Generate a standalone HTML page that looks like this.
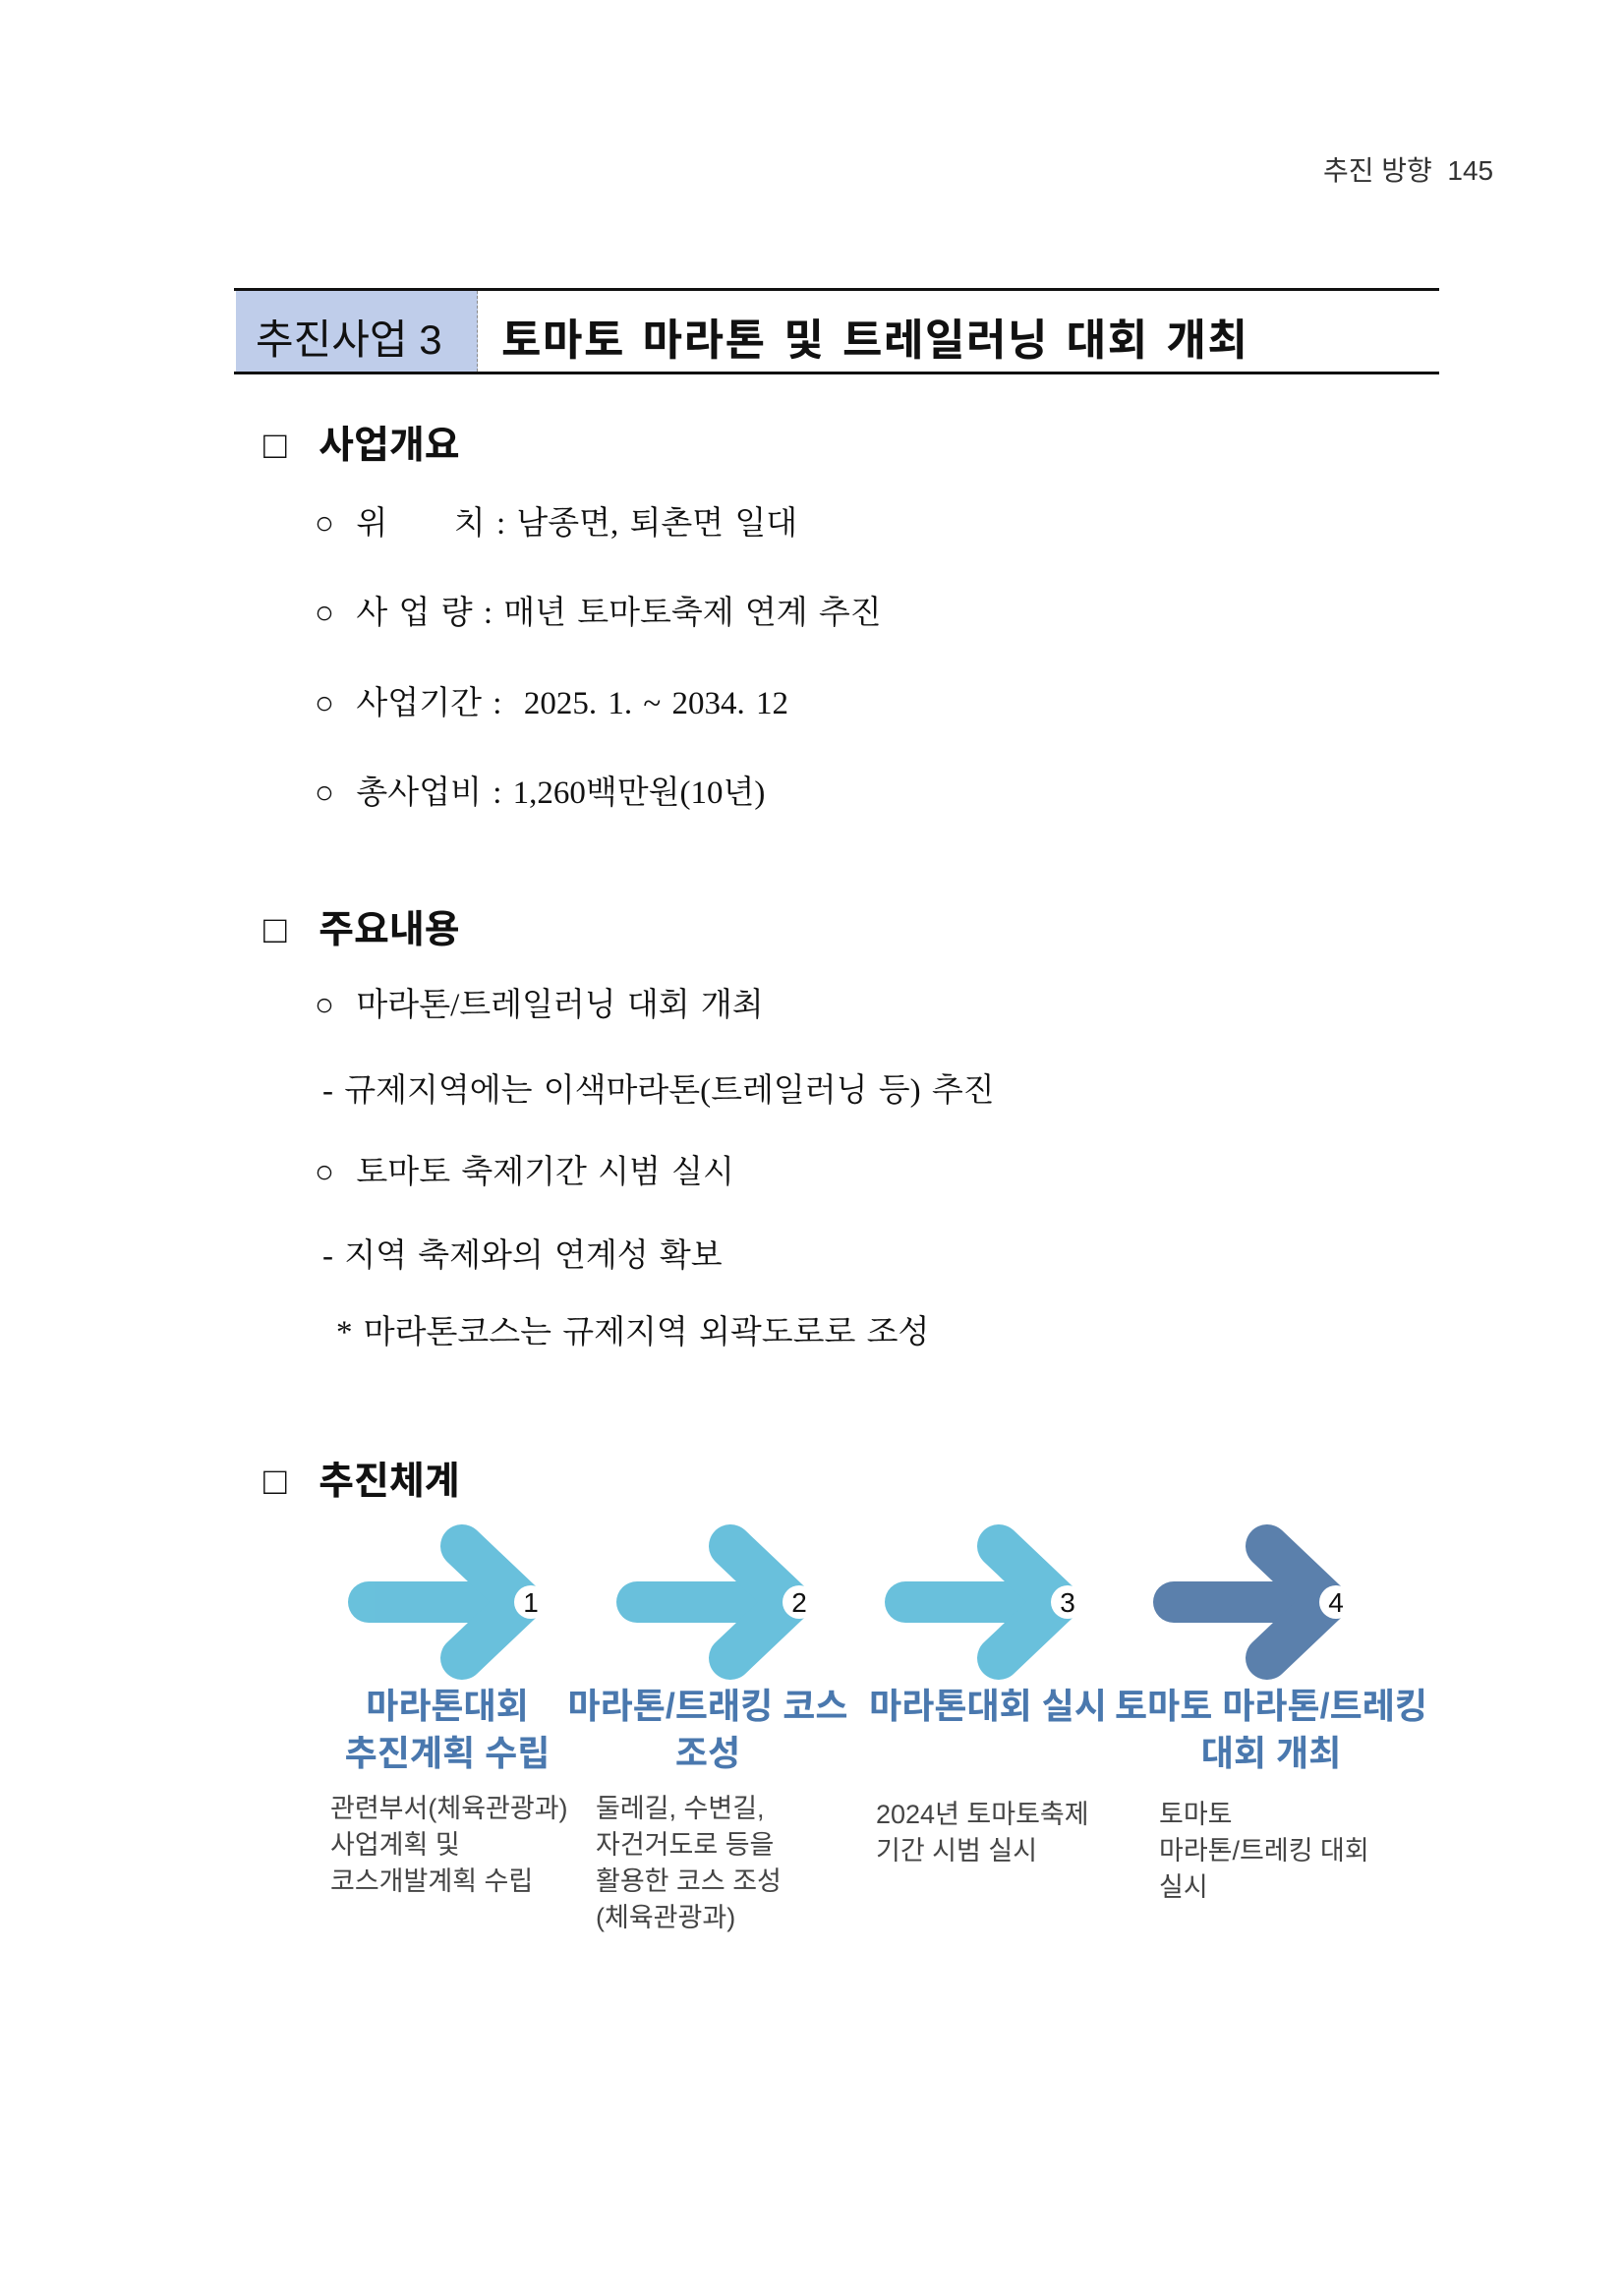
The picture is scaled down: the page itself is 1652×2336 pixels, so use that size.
<!DOCTYPE html>
<html><head><meta charset="utf-8"><style>
body{margin:0;background:#fff}
#p{position:relative;width:1652px;height:2336px;overflow:hidden;font-family:"Liberation Serif","Noto Serif CJK SC","Noto Sans CJK KR",serif;color:#111}
.a{position:absolute;white-space:nowrap}
.h{font-family:"Liberation Sans","Noto Sans CJK KR",sans-serif;font-weight:bold;font-size:39px}
.t{font-size:33px;word-spacing:3px}
.k{font-family:"Liberation Sans","Noto Sans CJK KR",sans-serif;font-weight:bold;font-size:36px;color:#4a78ae;text-align:center;line-height:48px;transform:translateX(-50%)}
.d{font-family:"Liberation Sans","Noto Sans CJK KR",sans-serif;font-size:27px;color:#444;line-height:37px}
</style></head><body><div id="p">
<div class="a" style="left:1346px;top:152px;font-size:28px;font-family:'Liberation Sans','Noto Sans CJK KR',sans-serif;color:#333">추진 방향 &nbsp;145</div>
<div class="a" style="left:238px;top:293px;width:1226px;height:3px;background:#111"></div>
<div class="a" style="left:238px;top:378px;width:1226px;height:3px;background:#111"></div>
<div class="a" style="left:240px;top:296px;width:245px;height:82px;background:#bfcdea;border-right:1px dashed #888"></div>
<div class="a" style="left:260px;top:312px;font-size:42px;font-family:'Liberation Sans','Noto Sans CJK KR',sans-serif">추진사업 3</div>
<div class="a" style="left:510px;top:310px;font-size:44px;font-weight:bold;letter-spacing:1.5px;word-spacing:4px;font-family:'Liberation Sans','Noto Sans CJK KR',sans-serif">토마토 마라톤 및 트레일러닝 대회 개최</div>

<div class="a h" style="left:268px;top:422px">□&nbsp;&nbsp; 사업개요</div>
<div class="a t" style="left:320px;top:506px">○ &nbsp;위 &nbsp;&nbsp;&nbsp;&nbsp;&nbsp;치 : 남종면, 퇴촌면 일대</div>
<div class="a t" style="left:320px;top:597px">○ &nbsp;사 업 량 : 매년 토마토축제 연계 추진</div>
<div class="a t" style="left:320px;top:689px">○ &nbsp;사업기간 : &nbsp;2025. 1. ~ 2034. 12</div>
<div class="a t" style="left:320px;top:780px">○ &nbsp;총사업비 : 1,260백만원(10년)</div>

<div class="a h" style="left:268px;top:915px">□&nbsp;&nbsp; 주요내용</div>
<div class="a t" style="left:320px;top:996px">○ &nbsp;마라톤/트레일러닝 대회 개최</div>
<div class="a t" style="left:328px;top:1083px">- 규제지역에는 이색마라톤(트레일러닝 등) 추진</div>
<div class="a t" style="left:320px;top:1166px">○ &nbsp;토마토 축제기간 시범 실시</div>
<div class="a t" style="left:328px;top:1251px">- 지역 축제와의 연계성 확보</div>
<div class="a t" style="left:342px;top:1329px">* 마라톤코스는 규제지역 외곽도로로 조성</div>

<div class="a h" style="left:268px;top:1476px">□&nbsp;&nbsp; 추진체계</div>

<svg class="a" style="left:0;top:0" width="1652" height="2336">
<g stroke-linecap="round" stroke-linejoin="round" fill="none" opacity="0.85">
<g stroke="#4fb6d6"><line x1="375" y1="1630" x2="520" y2="1630" stroke-width="42"/><polyline points="470,1573 530,1630 470,1687" stroke-width="44"/></g>
<g stroke="#4fb6d6"><line x1="648" y1="1630" x2="793" y2="1630" stroke-width="42"/><polyline points="743,1573 803,1630 743,1687" stroke-width="44"/></g>
<g stroke="#4fb6d6"><line x1="921" y1="1630" x2="1066" y2="1630" stroke-width="42"/><polyline points="1016,1573 1076,1630 1016,1687" stroke-width="44"/></g>
<g stroke="#3f6a9e"><line x1="1194" y1="1630" x2="1339" y2="1630" stroke-width="42"/><polyline points="1289,1573 1349,1630 1289,1687" stroke-width="44"/></g>
</g>
<g font-family="Liberation Sans, sans-serif" font-size="28" text-anchor="middle" fill="#111">
<circle cx="540" cy="1630" r="17" fill="#fff"/><text x="540" y="1640">1</text>
<circle cx="813" cy="1630" r="17" fill="#fff"/><text x="813" y="1640">2</text>
<circle cx="1086" cy="1630" r="17" fill="#fff"/><text x="1086" y="1640">3</text>
<circle cx="1359" cy="1630" r="17" fill="#fff"/><text x="1359" y="1640">4</text>
</g>
</svg>

<div class="a k" style="left:455px;top:1712px">마라톤대회<br>추진계획 수립</div>
<div class="a k" style="left:720px;top:1712px">마라톤/트래킹 코스<br>조성</div>
<div class="a k" style="left:1005px;top:1712px">마라톤대회 실시</div>
<div class="a k" style="left:1293px;top:1712px">토마토 마라톤/트레킹<br>대회 개최</div>

<div class="a d" style="left:336px;top:1822px">관련부서(체육관광과)<br>사업계획 및<br>코스개발계획 수립</div>
<div class="a d" style="left:606px;top:1822px">둘레길, 수변길,<br>자건거도로 등을<br>활용한 코스 조성<br>(체육관광과)</div>
<div class="a d" style="left:891px;top:1828px">2024년 토마토축제<br>기간 시범 실시</div>
<div class="a d" style="left:1179px;top:1828px">토마토<br>마라톤/트레킹 대회<br>실시</div>
</div></body></html>
